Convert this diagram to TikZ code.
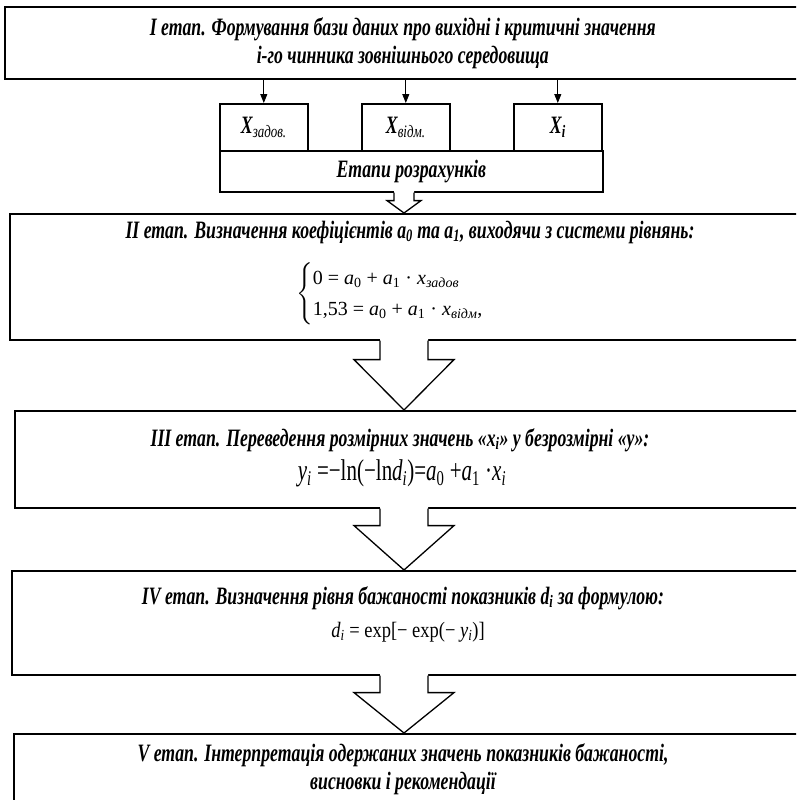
\documentclass[tikz,border=0pt]{standalone}
\usepackage{fontspec}
\usepackage{amsmath}
\setmainfont{Liberation Serif}
\newfontfamily\condbi[FakeStretch=0.71]{Liberation Serif Bold Italic}
\newfontfamily\condi[FakeStretch=0.74]{Liberation Serif Italic}
\newfontfamily\condf[FakeStretch=0.70]{Liberation Serif}
\newfontfamily\condfi[FakeStretch=0.70]{Liberation Serif Italic}
\newfontfamily\semf[FakeStretch=0.84]{Liberation Serif}
\newfontfamily\semfi[FakeStretch=0.84]{Liberation Serif Italic}
\usetikzlibrary{arrows.meta,calc}
\newcommand\sbs[1]{\textsubscript{#1}}
\begin{document}
\begin{tikzpicture}[x=1pt,y=-1pt,
  box/.style={draw,line width=1.6pt,inner sep=0pt,anchor=north west},
  ttl/.style={font=\condbi\fontsize{25}{28}\selectfont,align=center,inner sep=0pt},
  eqf/.style={font=\fontsize{20}{26}\selectfont,inner sep=0pt},
  thin/.style={-{Triangle[length=9pt,width=7pt]},line width=0.9pt},
  barrowfill/.style={fill=white},
  barrowline/.style={line width=1.3pt,line join=miter}]
\clip (0,0) rectangle (796,800);
\fill[white] (0,0) rectangle (796,800);
% stage I
\node[box,minimum width=796pt,minimum height=72pt,ttl] (b1) at (4,6)
  {I етап. Формування бази даних про вихідні і критичні значення\\ і-го чинника зовнішнього середовища};
% small boxes
\node[box,minimum width=88pt,minimum height=47pt] (xz) at (219,103) {};
\node[box,minimum width=88pt,minimum height=47pt] (xv) at (361,103) {};
\node[box,minimum width=88pt,minimum height=47pt] (xi) at (513,103) {};
\node[ttl] (txz) at (xz.center) {X\sbs{\condi задов.}};
\node[ttl] (txv) at (xv.center) {X\sbs{\condi відм.}};
\node[ttl] (txi) at (xi.center) {X\sbs{i}};
\node[box,minimum width=383pt,minimum height=41pt] (et) at (219,150) {};
\node[ttl] (tet) at (et.center) {Етапи розрахунків};
\foreach \n in {xz,xv,xi} \draw[thin] (b1.south -| \n.north) -- (\n.north);
% stage II
\node[box,minimum width=791pt,minimum height=126pt] (b2) at (9,213) {};
\node[ttl] (t2) at (410,232) {II етап. Визначення коефіцієнтів a\sbs{0} та a\sbs{1}, виходячи з системи рівнянь:};
\node[eqf,anchor=west] (e2) at (296,294) {$\left\{\renewcommand\arraystretch{1.2}\begin{array}{@{}l@{}}
 \text{0 = \textit{a}\sbs{0} + \textit{a}\sbs{1} · \textit{x}\sbs{\textit{задов}}}\\
 \text{1,53 = \textit{a}\sbs{0} + \textit{a}\sbs{1} · \textit{x}\sbs{\textit{відм}},}
 \end{array}\right.$};
% stage III
\node[box,minimum width=786pt,minimum height=97pt] (b3) at (14,410) {};
\node[ttl] (t3) at (400,440) {III етап. Переведення розмірних значень «x\sbs{i}» у безрозмірні «y»:};
\node[font=\condf\fontsize{30}{34}\selectfont,inner sep=0pt] (e3) at (402,473)
  {{\condfi y}\sbs{\condfi i} =−ln(−ln{\condfi d}\sbs{\condfi i})={\condfi a}\sbs{0} +{\condfi a}\sbs{1} ·{\condfi x}\sbs{\condfi i}};
% stage IV
\node[box,minimum width=789pt,minimum height=104pt] (b4) at (11,570) {};
\node[ttl] (t4) at (403,598) {IV етап. Визначення рівня бажаності показників d\sbs{i} за формулою:};
\node[font=\semf\fontsize{22}{26}\selectfont,inner sep=0pt] (e4) at (408,632)
  {{\semfi d}\sbs{\semfi i} = exp[− exp(− {\semfi y}\sbs{\semfi i})]};
% stage V
\node[box,minimum width=787pt,minimum height=80pt] (b5) at (13,733) {};
\node[ttl] (t5) at (403,769) {V етап. Інтерпретація одержаних значень показників бажаності,\\ висновки і рекомендації};
% block arrows
\newcommand\blockarr[5]{%
  \path[barrowfill] let \p1=(#1), \p2=(#2) in
   (404pt-#3,\y1+1.5pt) -- (404pt-#3,\y1-#5) -- (404pt-#4,\y1-#5) -- (404pt,\y2) --
   (404pt+#4,\y1-#5) -- (404pt+#3,\y1-#5) -- (404pt+#3,\y1+1.5pt) -- cycle;
  \draw[barrowline] let \p1=(#1), \p2=(#2) in
   (404pt-#3,\y1) -- (404pt-#3,\y1-#5) -- (404pt-#4,\y1-#5) -- (404pt,\y2) --
   (404pt+#4,\y1-#5) -- (404pt+#3,\y1-#5) -- (404pt+#3,\y1);}
\blockarr{et.south}{b2.north}{10pt}{17pt}{8pt}
\blockarr{b2.south}{b3.north}{24pt}{50pt}{19pt}
\blockarr{b3.south}{b4.north}{24pt}{50pt}{17pt}
\blockarr{b4.south}{b5.north}{24pt}{50pt}{17pt}
\end{tikzpicture}
\end{document}
